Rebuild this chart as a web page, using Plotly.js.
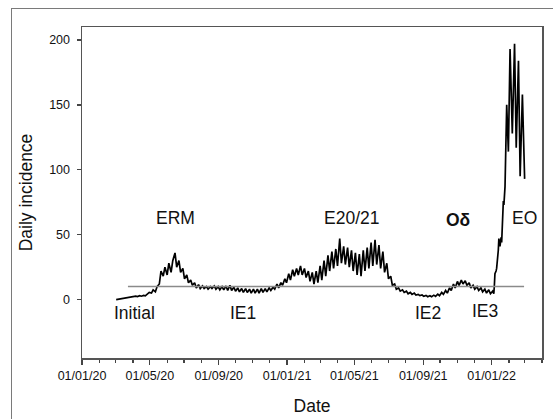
<!DOCTYPE html>
<html>
<head>
<meta charset="utf-8">
<script src="https://cdn.plot.ly/plotly-3.0.1.min.js"></script>
<style>
  html, body { margin:0; padding:0; background:#fff; overflow:hidden; }
  #wrap { position:relative; width:553px; height:419px; }
  #chart { position:absolute; left:0; top:0; width:553px; height:419px; }
  #frame { position:absolute; left:11px; top:8px; width:620px; height:500px;
           border:1.5px solid #7a7a7a; pointer-events:none; z-index:5; }
</style>
</head>
<body>
<div id="wrap"><div id="chart"></div><div id="frame"></div></div>
<script>
// ---- data ----
const dates = [
  "2020-03-02","2020-03-05","2020-03-09","2020-03-12","2020-03-16","2020-03-19","2020-03-23","2020-03-26","2020-03-30",
  "2020-04-02","2020-04-06","2020-04-09","2020-04-13","2020-04-16","2020-04-20","2020-04-23","2020-04-27","2020-04-30",
  "2020-05-04","2020-05-07","2020-05-11","2020-05-14","2020-05-18","2020-05-21","2020-05-25","2020-05-28",
  "2020-06-01","2020-06-04","2020-06-08","2020-06-11","2020-06-15","2020-06-18","2020-06-22","2020-06-25","2020-06-29",
  "2020-07-02","2020-07-06","2020-07-09","2020-07-13","2020-07-16","2020-07-20","2020-07-23","2020-07-27","2020-07-30",
  "2020-08-03","2020-08-06","2020-08-10","2020-08-13","2020-08-17","2020-08-20","2020-08-24","2020-08-27","2020-08-31",
  "2020-09-03","2020-09-07","2020-09-10","2020-09-14","2020-09-17","2020-09-21","2020-09-24","2020-09-28",
  "2020-10-01","2020-10-05","2020-10-08","2020-10-12","2020-10-15","2020-10-19","2020-10-22","2020-10-26","2020-10-29",
  "2020-11-02","2020-11-05","2020-11-09","2020-11-12","2020-11-16","2020-11-19","2020-11-23","2020-11-26","2020-11-30",
  "2020-12-03","2020-12-07","2020-12-10","2020-12-14","2020-12-17","2020-12-21","2020-12-24","2020-12-28","2020-12-31",
  "2021-01-04","2021-01-07","2021-01-11","2021-01-14","2021-01-18","2021-01-21","2021-01-25","2021-01-28",
  "2021-02-01","2021-02-04","2021-02-08","2021-02-11","2021-02-15","2021-02-18","2021-02-22","2021-02-25",
  "2021-03-01","2021-03-04","2021-03-08","2021-03-11","2021-03-15","2021-03-18","2021-03-22","2021-03-25","2021-03-29",
  "2021-04-01","2021-04-05","2021-04-08","2021-04-12","2021-04-15","2021-04-19","2021-04-22","2021-04-26","2021-04-29",
  "2021-05-03","2021-05-06","2021-05-10","2021-05-13","2021-05-17","2021-05-20","2021-05-24","2021-05-27","2021-05-31",
  "2021-06-03","2021-06-07","2021-06-10","2021-06-14","2021-06-17","2021-06-21","2021-06-24","2021-06-28",
  "2021-07-01","2021-07-05","2021-07-08","2021-07-12","2021-07-15","2021-07-19","2021-07-22","2021-07-26","2021-07-29",
  "2021-08-02","2021-08-05","2021-08-09","2021-08-12","2021-08-16","2021-08-19","2021-08-23","2021-08-26","2021-08-30",
  "2021-09-02","2021-09-06","2021-09-09","2021-09-13","2021-09-16","2021-09-20","2021-09-23","2021-09-27","2021-09-30",
  "2021-10-04","2021-10-07","2021-10-11","2021-10-14","2021-10-18","2021-10-21","2021-10-25","2021-10-28",
  "2021-11-01","2021-11-04","2021-11-08","2021-11-11","2021-11-15","2021-11-18","2021-11-22","2021-11-25","2021-11-29",
  "2021-12-02","2021-12-06","2021-12-09","2021-12-13","2021-12-16","2021-12-20","2021-12-23","2021-12-27","2021-12-30",
  "2022-01-03","2022-01-05","2022-01-06","2022-01-07","2022-01-09","2022-01-10","2022-01-13","2022-01-14","2022-01-16",
  "2022-01-18","2022-01-19","2022-01-21","2022-01-22","2022-01-23","2022-01-25","2022-01-28","2022-01-31",
  "2022-02-03","2022-02-07","2022-02-11","2022-02-14","2022-02-18","2022-02-21","2022-02-25","2022-03-01"
];
const incidence = [
  0, 0.2, 0.3, 0.5, 0.9, 1.2, 1.8, 1.6, 2.2,
  2.0, 2.6, 2.3, 3.0, 2.6, 3.2, 2.9, 4.5, 5.5,
  5, 7.5, 6, 10, 12, 22, 18, 25,
  19, 28, 21, 30, 36, 25, 30, 21, 24,
  16, 19, 13, 15, 11, 13, 9, 11.5, 8.5,
  10.5, 8.5, 10, 8, 10, 8.5, 10.5, 8, 10,
  7.5, 10, 7.5, 10.5, 7, 11, 7, 9.5,
  6.5, 9, 6, 8.5, 5.5, 8.5, 5.5, 8, 5,
  8, 5, 8, 5, 8.5, 5.5, 8.5, 6, 9,
  7, 9.5, 8, 12, 9, 13, 11, 16, 13,
  20, 15, 23, 18, 24, 19, 26, 19,
  24, 17, 22, 14, 21, 12, 22, 13,
  26, 15, 30, 18, 34, 22, 37, 24, 39,
  26, 47, 28, 41, 27, 40, 25, 38, 22,
  36, 19, 35, 18, 38, 22, 40, 24, 44,
  26, 46, 27, 42, 24, 37, 21, 28,
  16, 18, 11, 12, 8, 9, 6.5, 7.5, 5.5,
  6.5, 4.5, 5.5, 4, 5, 3.5, 4, 3, 3.5,
  2.5, 3.2, 2.2, 3, 2.2, 3.4, 2.5, 4.2, 3,
  5.5, 4, 7, 5, 9, 7, 12, 9,
  14, 11, 15, 12, 14.5, 11, 13, 9, 11,
  8, 10, 7, 9, 6, 8, 5, 7.5, 4.5,
  6.5, 4.5, 11, 20, 22, 24, 38, 47, 41,
  48, 44, 72, 76, 73, 87, 150, 114,
  193, 128, 197, 117, 184, 95, 158, 93
];
const thresholdDates = ["2020-03-23", "2022-02-28"];
const thresholdValues = [10, 10];

const phaseLabels = ["Initial", "ERM", "IE1", "E20/21", "IE2", "<b>O\u03b4</b>", "IE3", "EO"];
const phaseDates  = ["2020-04-04", "2020-06-16", "2020-10-14", "2021-04-26", "2021-09-10", "2021-11-01 12:00", "2021-12-20 12:00", "2022-03-01 12:00"];
const phaseLevels = [-10, 63, -10, 63, -10.5, 61, -9, 63];

const xTick0 = "2020-01-01";
const xRange = ["2020-01-01", "2022-04-01"];
const yTicks = [0, 50, 100, 150, 200];

// ---- chart ----
const FONT = "Liberation Sans, Arial, sans-serif";
const traces = [
  { x: dates, y: incidence, type: "scatter", mode: "lines",
    line: { color: "#000", width: 1.7 }, hoverinfo: "skip" },
  { x: thresholdDates, y: thresholdValues, type: "scatter", mode: "lines",
    line: { color: "#8a8a8a", width: 1.5 }, hoverinfo: "skip" }
];

const annotations = phaseLabels.map((t, i) => ({
  x: phaseDates[i], y: phaseLevels[i], xref: "x", yref: "y",
  text: t, showarrow: false, xanchor: "center", yanchor: "middle",
  font: { family: FONT, size: 17.5, color: "#111" }
}));

const layout = {
  width: 553, height: 419,
  margin: { l: 82, r: 11, t: 27, b: 61, pad: 0 },
  paper_bgcolor: "#fff", plot_bgcolor: "#fff",
  showlegend: false,
  font: { family: FONT, color: "#111" },
  xaxis: {
    type: "date", range: xRange,
    tick0: xTick0, dtick: "M4", tickformat: "%d/%m/%y",
    ticks: "outside", ticklen: 5, tickwidth: 1.3, tickcolor: "#444",
    minor: { dtick: "M1", ticks: "outside", ticklen: 3, tickwidth: 1.2, tickcolor: "#444", showgrid: false },
    showgrid: false, zeroline: false,
    showline: true, linecolor: "#555", linewidth: 1.5, mirror: true,
    tickfont: { family: FONT, size: 12.5, color: "#111" },
    ticklabelstandoff: 0,
    title: { text: "Date", font: { family: FONT, size: 17.5, color: "#111" }, standoff: 18 }
  },
  yaxis: {
    range: [-45, 210], tickvals: yTicks,
    ticks: "outside", ticklen: 4, tickwidth: 1.3, tickcolor: "#444",
    showgrid: false, zeroline: false,
    showline: true, linecolor: "#555", linewidth: 1.5, mirror: true,
    tickfont: { family: FONT, size: 12.5, color: "#111" },
    ticklabelstandoff: 4,
    title: { text: "Daily incidence", font: { family: FONT, size: 17.5, color: "#111" }, standoff: 12 }
  },
  annotations: annotations
};

Plotly.newPlot("chart", traces, layout, { staticPlot: true, displayModeBar: false });
</script>
</body>
</html>
